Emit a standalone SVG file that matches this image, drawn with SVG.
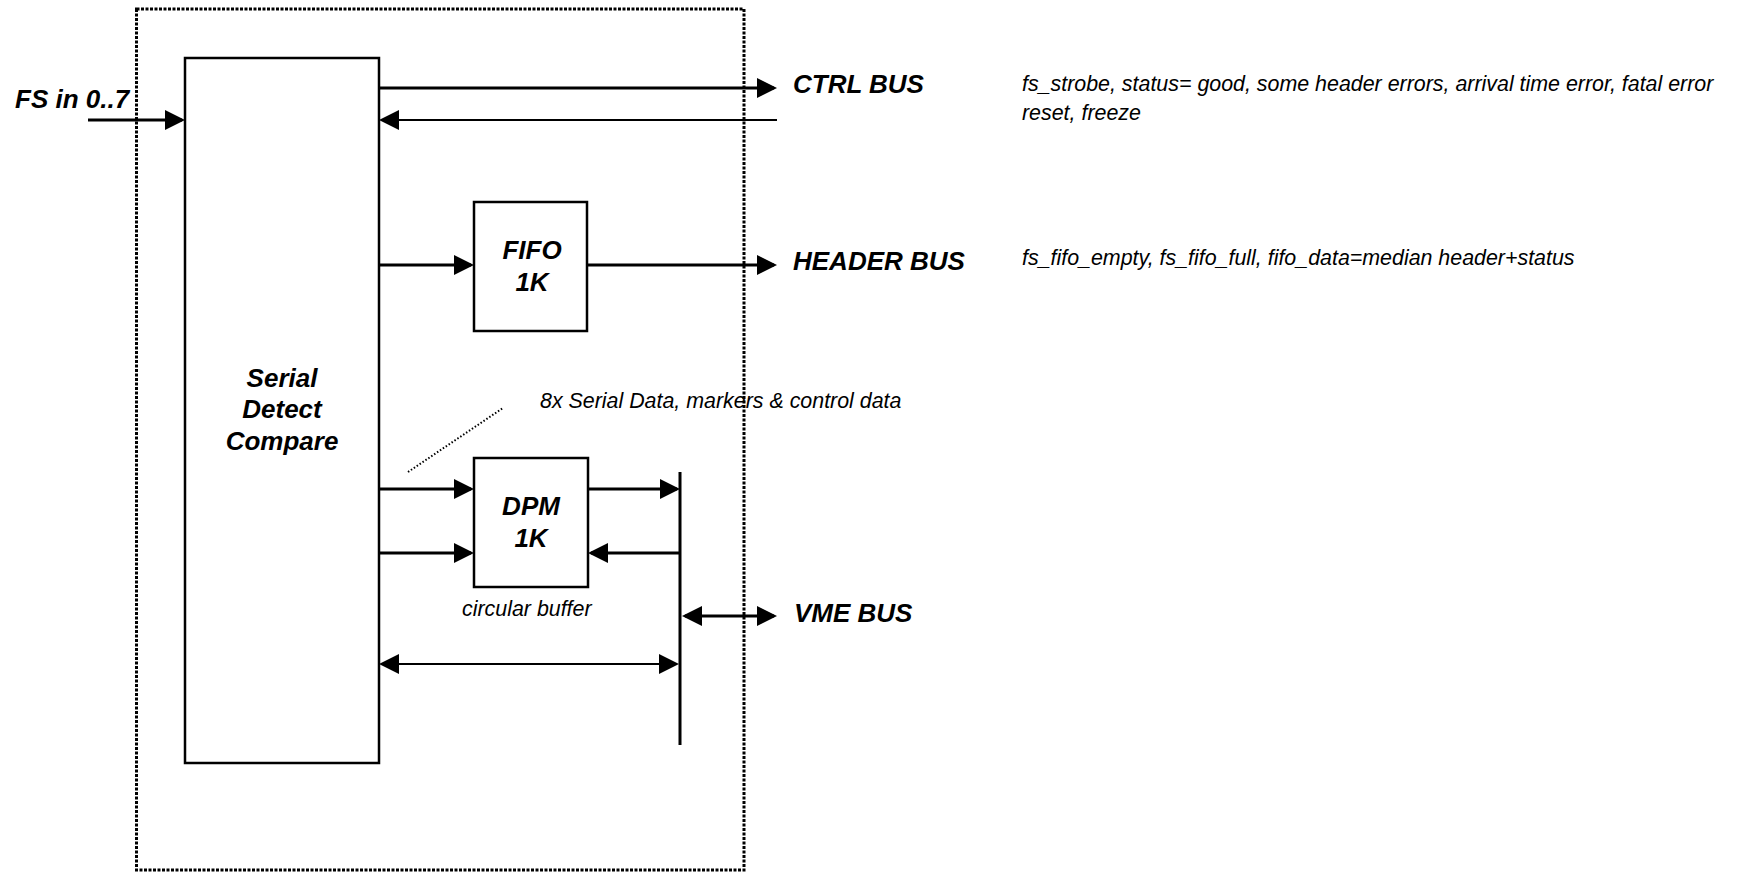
<svg xmlns="http://www.w3.org/2000/svg" width="1738" height="872" viewBox="0 0 1738 872">
<style>
.box{fill:#fff;stroke:#000;stroke-width:2.5}
.ln{fill:none;stroke:#000;stroke-width:3}
.thin{fill:none;stroke:#000;stroke-width:2}
.lbl{font-family:"Liberation Sans",Arial,sans-serif;font-weight:bold;font-style:italic;font-size:26px;fill:#000}
.note{font-family:"Liberation Sans",Arial,sans-serif;font-style:italic;font-size:21.4px;fill:#000}
</style>
<defs>
<marker id="arr" viewBox="0 0 20 20" refX="17" refY="10" markerWidth="20" markerHeight="20" markerUnits="userSpaceOnUse" orient="auto-start-reverse">
<path d="M0,0 L20,10 L0,20 z" fill="#000"/>
</marker>
</defs>
<rect id="frame" x="136.5" y="9" width="607.5" height="861" fill="none" stroke="#000" stroke-width="3" stroke-dasharray="3 1.5"/>
<g id="serial">
<rect class="box" x="185" y="58" width="194" height="705"/>
<text class="lbl" text-anchor="middle" x="282" y="387">Serial</text>
<text class="lbl" text-anchor="middle" x="282" y="418">Detect</text>
<text class="lbl" text-anchor="middle" x="282" y="450">Compare</text>
</g>
<g id="fifo">
<rect class="box" x="474" y="202" width="113" height="129"/>
<text class="lbl" text-anchor="middle" x="532" y="259">FIFO</text>
<text class="lbl" text-anchor="middle" x="532" y="291">1K</text>
</g>
<g id="dpm">
<rect class="box" x="474" y="458" width="114" height="129"/>
<text class="lbl" text-anchor="middle" x="531" y="515">DPM</text>
<text class="lbl" text-anchor="middle" x="531" y="547">1K</text>
<text class="note" x="462" y="616">circular buffer</text>
</g>
<g id="fsin"><text class="lbl" x="15" y="108">FS in 0..7</text></g>
<g id="ctrlbus">
<text class="lbl" x="793" y="93">CTRL BUS</text>
<text class="note" x="1022" y="91">fs_strobe, status= good, some header errors, arrival time error, fatal error</text>
<text class="note" x="1022" y="120">reset, freeze</text>
</g>
<g id="headerbus">
<text class="lbl" x="793" y="270">HEADER BUS</text>
<text class="note" x="1022" y="265">fs_fifo_empty, fs_fifo_full, fifo_data=median header+status</text>
</g>
<g id="vmebus"><text class="lbl" x="794" y="622">VME BUS</text></g>
<g id="serialnote"><text class="note" x="540" y="408">8x Serial Data, markers &amp; control data</text></g>
<g id="connectors">
<line class="ln" x1="88" y1="120" x2="182" y2="120" marker-end="url(#arr)"/>
<line class="ln" x1="379" y1="88" x2="774" y2="88" marker-end="url(#arr)"/>
<line class="thin" x1="777" y1="120" x2="382" y2="120" marker-end="url(#arr)"/>
<line class="ln" x1="379" y1="265" x2="471" y2="265" marker-end="url(#arr)"/>
<line class="ln" x1="587" y1="265" x2="774" y2="265" marker-end="url(#arr)"/>
<line class="ln" x1="379" y1="489" x2="471" y2="489" marker-end="url(#arr)"/>
<line class="ln" x1="379" y1="553" x2="471" y2="553" marker-end="url(#arr)"/>
<line class="ln" x1="588" y1="489" x2="677" y2="489" marker-end="url(#arr)"/>
<line class="ln" x1="680" y1="553" x2="591" y2="553" marker-end="url(#arr)"/>
<line class="ln" x1="685" y1="616" x2="774" y2="616" marker-start="url(#arr)" marker-end="url(#arr)"/>
<line class="thin" x1="382" y1="664" x2="676" y2="664" marker-start="url(#arr)" marker-end="url(#arr)"/>
<line class="ln" x1="680" y1="472" x2="680" y2="745"/>
<line class="thin" x1="408" y1="472" x2="503" y2="408" stroke-dasharray="1.5 2"/>
</g>
</svg>
